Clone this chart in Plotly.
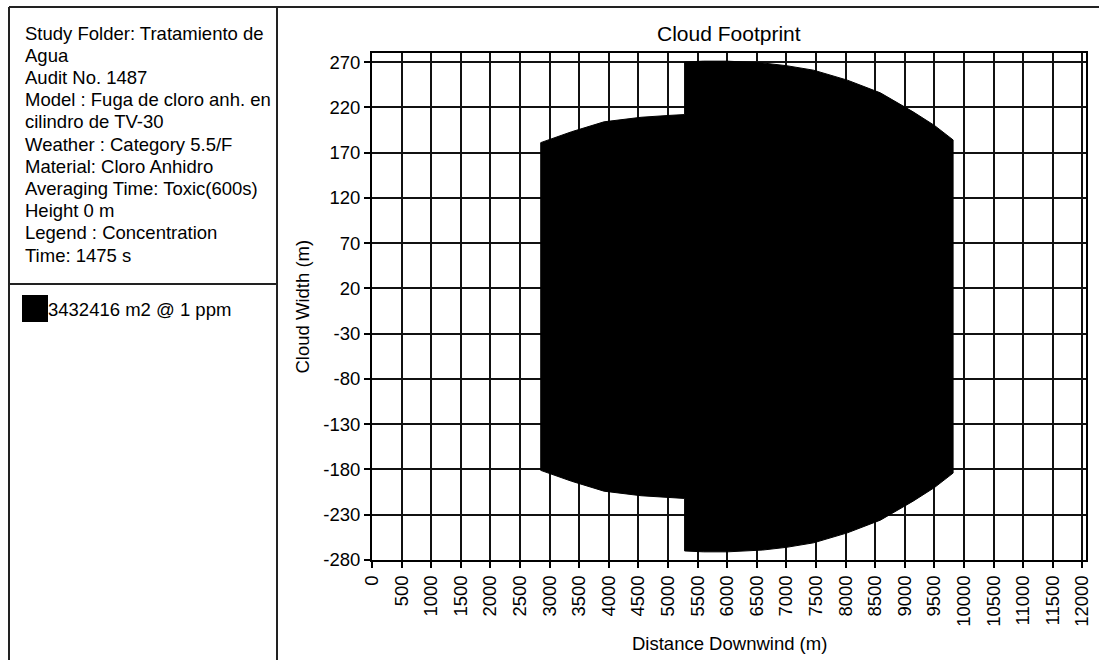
import plotly.graph_objects as go

# Footprint envelope (downwind distance in m, cloud half-width in m)
dist_near = [2850, 3370, 3920, 4545, 5000, 5280]
half_near = [181, 193, 204, 209, 211, 212]
dist_far = [5280, 5600, 6000, 6600, 7000, 7460, 8030, 8586, 9140, 9500, 9815]
half_far = [270, 271, 271, 269, 266, 261, 250, 236, 215, 200, 184]

x_ticks = list(range(0, 12001, 500))
y_ticks = list(range(-280, 271, 50))

info_lines = [
    "Study Folder: Tratamiento de",
    "Agua",
    "Audit No. 1487",
    "Model : Fuga de cloro anh. en",
    "cilindro de TV-30",
    "Weather : Category 5.5/F",
    "Material: Cloro Anhidro",
    "Averaging Time: Toxic(600s)",
    "Height 0 m",
    "Legend : Concentration",
    "Time: 1475 s",
]
legend_label = "3432416 m2 @ 1 ppm"

W, H = 1099, 660
PL, PR, PT, PB = 372, 1086, 53, 560  # plot area in pixels
FONT = "Liberation Sans, Arial, sans-serif"


def px(x):
    return (x - PL) / (PR - PL)


def py(y):
    return (PB - y) / (PB - PT)


# closed outline: upper edge left->right, lower edge right->left
dist_all = dist_near + dist_far
half_all = half_near + half_far
xs = dist_all + dist_all[::-1] + [dist_all[0]]
ys = half_all + [-h for h in half_all[::-1]] + [half_all[0]]

fig = go.Figure()
fig.add_trace(go.Scatter(
    x=xs, y=ys, mode="lines", fill="toself",
    fillcolor="black", line=dict(color="black", width=1),
    hoverinfo="skip", showlegend=False,
))

axis_common = dict(
    showline=True, linecolor="black", linewidth=2, mirror=True,
    showgrid=True, gridcolor="#111111", gridwidth=2,
    zeroline=False, ticks="outside", ticklen=6, tickwidth=2,
    tickcolor="black", tickfont=dict(family=FONT, size=18.5, color="black"),
)
fig.update_xaxes(range=[0, 12060], tickvals=x_ticks,
                 ticktext=[str(v) for v in x_ticks], tickangle=-90,
                 **axis_common)
fig.update_yaxes(range=[-280, 280], tickvals=y_ticks,
                 ticktext=[str(v) for v in y_ticks], **axis_common)

annotations = []
# chart title and axis titles
annotations.append(dict(text="Cloud Footprint", x=0.5, y=py(33), xref="paper",
                        yref="paper", showarrow=False, xanchor="center",
                        yanchor="middle",
                        font=dict(family=FONT, size=21, color="black")))
annotations.append(dict(text="Distance Downwind (m)", x=0.5, y=py(643),
                        xref="paper", yref="paper", showarrow=False,
                        xanchor="center", yanchor="middle",
                        font=dict(family=FONT, size=18.5, color="black")))
annotations.append(dict(text="Cloud Width (m)", x=px(302), y=0.5,
                        xref="paper", yref="paper", showarrow=False,
                        textangle=-90, xanchor="center", yanchor="middle",
                        font=dict(family=FONT, size=18.5, color="black")))

# study information block
for i, line in enumerate(info_lines):
    annotations.append(dict(text=line, x=px(23), y=py(33 + 22.2 * i),
                            xref="paper", yref="paper", showarrow=False,
                            xanchor="left", yanchor="middle",
                            font=dict(family=FONT, size=18.5, color="black")))

annotations.append(dict(text=legend_label, x=px(46), y=py(309),
                        xref="paper", yref="paper", showarrow=False,
                        xanchor="left", yanchor="middle",
                        font=dict(family=FONT, size=18.5, color="black")))

frame = dict(color="#222222", width=2)
shapes = [
    dict(type="line", xref="paper", yref="paper", x0=px(9), x1=px(1099),
         y0=py(7), y1=py(7), line=frame),
    dict(type="line", xref="paper", yref="paper", x0=px(9), x1=px(9),
         y0=py(7), y1=py(660), line=frame),
    dict(type="line", xref="paper", yref="paper", x0=px(277), x1=px(277),
         y0=py(7), y1=py(660), line=frame),
    dict(type="line", xref="paper", yref="paper", x0=px(9), x1=px(277),
         y0=py(284), y1=py(284), line=frame),
    dict(type="rect", xref="paper", yref="paper", x0=px(22), x1=px(48),
         y0=py(295), y1=py(322), fillcolor="black", line=dict(width=0)),
]

fig.update_layout(
    width=W, height=H,
    margin=dict(l=PL, r=W - PR, t=PT, b=H - PB, autoexpand=False),
    paper_bgcolor="white", plot_bgcolor="white",
    annotations=annotations, shapes=shapes, showlegend=False,
)

fig.write_html("out.html")
